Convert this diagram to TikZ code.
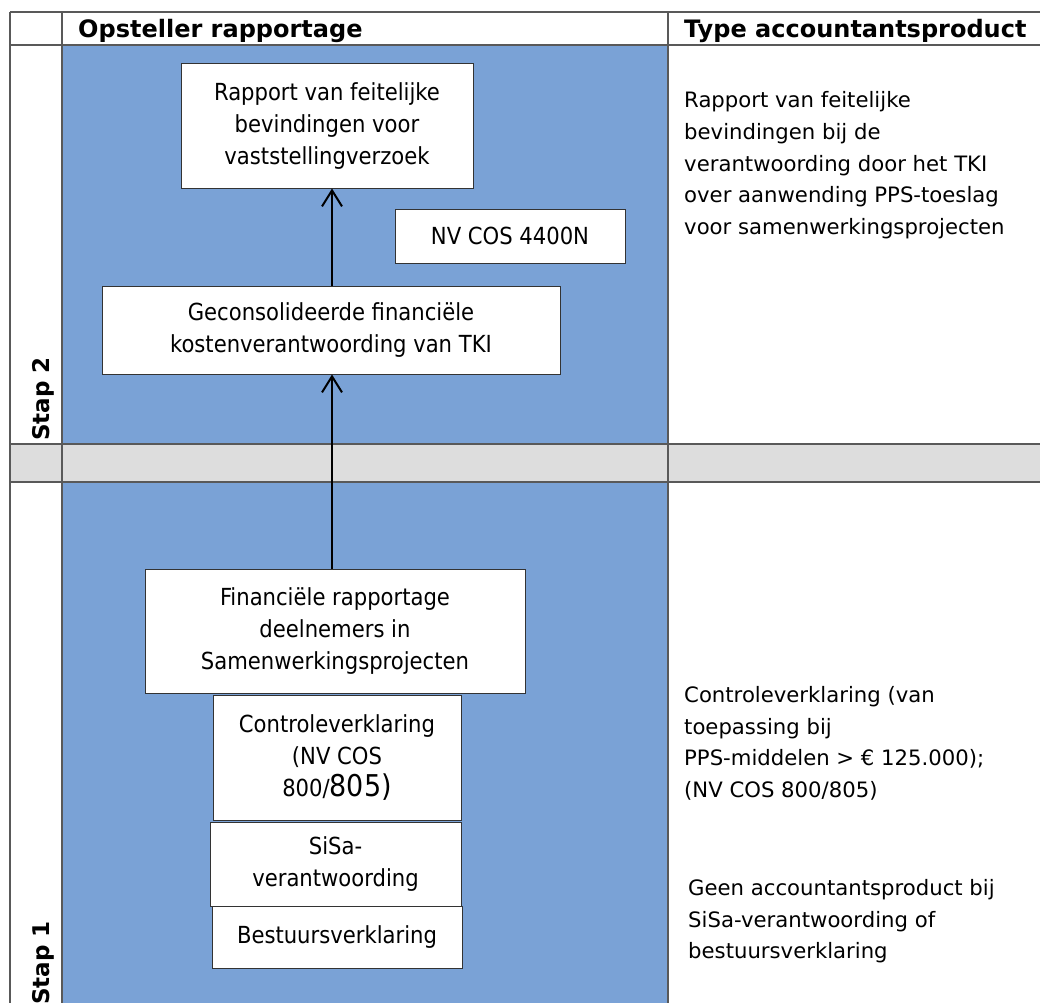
\documentclass[tikz,border=0pt]{standalone}
\usepackage{fontspec}
\setmainfont{DejaVu Sans}
\newfontfamily\condfont{DejaVu Sans Condensed}
\usetikzlibrary{arrows.meta}

\definecolor{stepblue}{RGB}{122,162,214}
\definecolor{bandgray}{RGB}{221,221,221}

\begin{document}
\begin{tikzpicture}[x=1pt, y=-1pt,
    box/.style={draw=black!80, line width=1pt, fill=white, align=center, inner sep=0pt,
        font=\condfont\fontsize{23.5}{32}\selectfont},
    note/.style={anchor=north west, align=left, inner sep=0pt,
        font=\fontsize{21.2}{31.7}\selectfont},
    head/.style={anchor=west, inner sep=0pt, font=\bfseries\fontsize{24}{26}\selectfont},
    steplabel/.style={anchor=west, rotate=90, inner sep=0pt, font=\bfseries\fontsize{23}{26}\selectfont},
    rule/.style={draw=black!65, line width=1.2pt},
    flow/.style={-{Straight Barb[length=16pt, width=20pt, line width=2pt]}, line width=2.2pt}]
    \useasboundingbox (0,0) rectangle (1040,1003);

    % table background
    \fill[stepblue] (62,45) rectangle (668,444);
    \fill[stepblue] (62,482) rectangle (668,1003);
    \fill[bandgray] (10,444) rectangle (1040,482);
    \draw[rule] (10,12) -- (1040,12)
        (10,45) -- (1040,45)
        (10,444) -- (1040,444)
        (10,482) -- (1040,482)
        (10,12) -- (10,1003)
        (62,12) -- (62,1003)
        (668,12) -- (668,1003);

    % headers
    \node[head] (hopst) at (78,31) {Opsteller rapportage};
    \node[head] (htype) at (684,31) {Type accountantsproduct};
    \node[steplabel] (stap2) at (43,441) {Stap 2};
    \node[steplabel] (stap1) at (43,1005) {Stap 1};

    % stap 2
    \node[box, minimum width=292, minimum height=124] (rap) at (327,126)
        {Rapport van feitelijke\\bevindingen voor\\vaststellingverzoek};
    \node[box, minimum width=230, minimum height=54] (cos) at (510,236) {NV COS 4400N};
    \node[box, minimum width=458, minimum height=88] (gecon) at (331,330)
        {Geconsolideerde financiële\\kostenverantwoording van TKI};

    % stap 1
    \node[box, minimum width=380, minimum height=124] (fin) at (335,631)
        {Financiële rapportage\\deelnemers in\\Samenwerkingsprojecten};
    \node[box, minimum width=248, minimum height=125] (ctrl) at (337,757.5)
        {Controleverklaring\\(NV COS\\800/{\fontsize{30}{32}\selectfont 805)}};
    \node[box, minimum width=251, minimum height=84] (sisa) at (335.5,864)
        {SiSa-\\verantwoording};
    \node[box, minimum width=250, minimum height=62] (best) at (337,937) {Bestuursverklaring};

    % type accountantsproduct
    \node[note] (prod2) at (684,91.5)
        {Rapport van feitelijke\\bevindingen bij de\\verantwoording door het TKI\\over aanwending PPS-toeslag\\voor samenwerkingsprojecten};
    \node[note] (prod1) at (684,686)
        {Controleverklaring (van\\toepassing bij\\PPS-middelen > € 125.000);\\(NV COS 800/805)};
    \node[note] (prod0) at (688,879)
        {Geen accountantsproduct bij\\SiSa-verantwoording of\\bestuursverklaring};

    \draw[flow] (fin.north -| 332,0) -- (gecon.south -| 332,0);
    \draw[flow] (gecon.north -| 332,0) -- (rap.south -| 332,0);
\end{tikzpicture}
\end{document}
